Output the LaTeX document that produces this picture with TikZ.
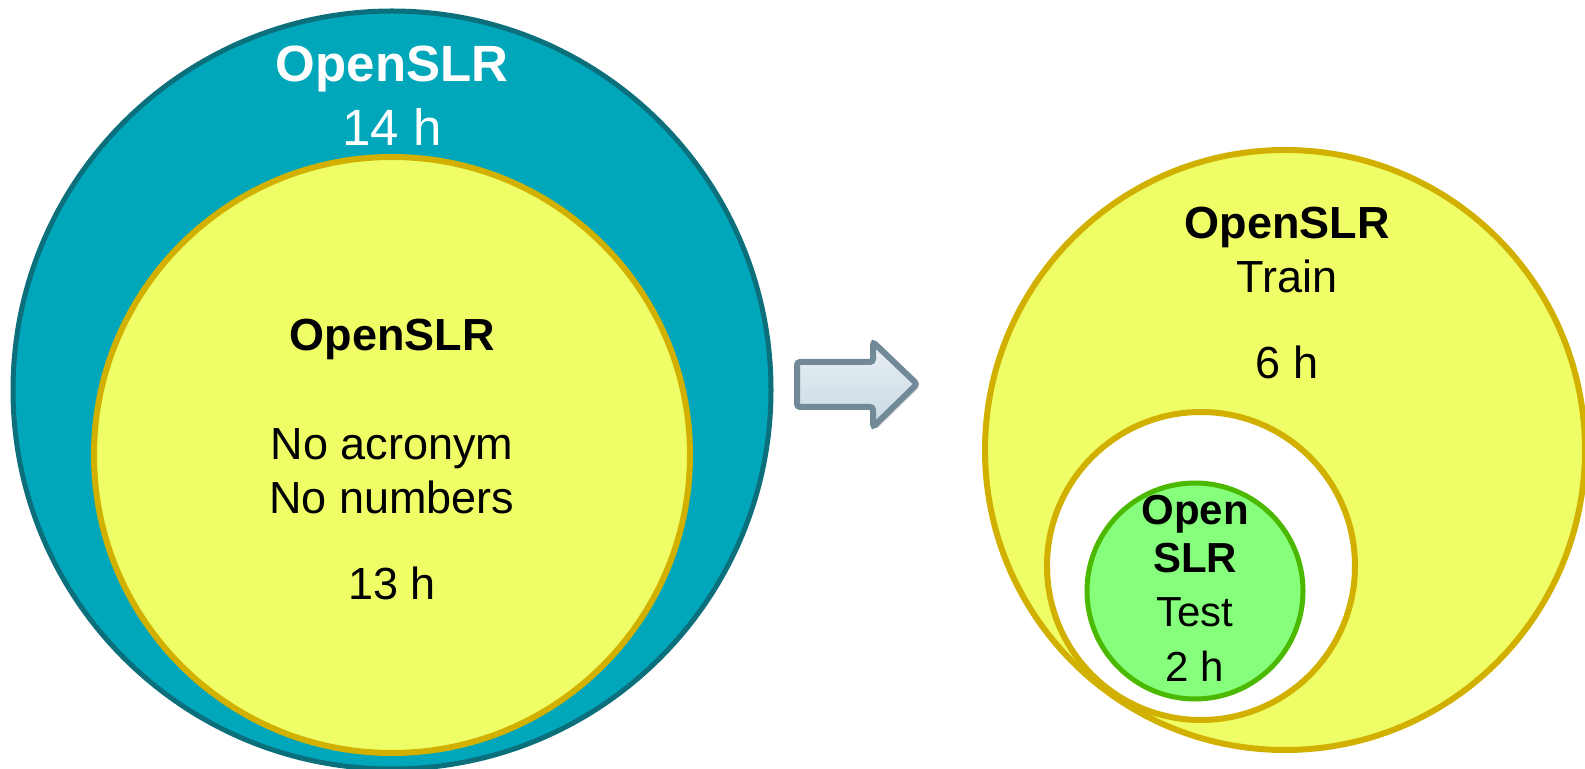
\documentclass[tikz,border=0pt]{standalone}
\usepackage{fontspec}
\setmainfont{Liberation Sans}
\usepackage{tikz}
\usetikzlibrary{positioning, calc, shadows}

\definecolor{tealfill}{HTML}{00A7BB}
\definecolor{tealline}{HTML}{0B6F7C}
\definecolor{yelfill}{HTML}{EFFE66}
\definecolor{goldline}{HTML}{D2B000}
\definecolor{greenfill}{HTML}{85FF7C}
\definecolor{greenline}{HTML}{4AB900}
\definecolor{arrline}{HTML}{728A98}
\definecolor{arrtop}{HTML}{E8EFF4}
\definecolor{arrbot}{HTML}{C9D9E3}

\newcommand{\bigtxt}{\fontsize{25.5}{30}\selectfont}
\newcommand{\midtxt}{\fontsize{22.5}{27}\selectfont}
\newcommand{\smalltxt}{\fontsize{21}{25}\selectfont}

\begin{document}
\begin{tikzpicture}[x=0.5pt, y=-0.5pt, every node/.style={inner sep=0pt},
	ring/.style={circle, draw, line width=3pt},
	lbl/.style={anchor=base, align=center}]
	\useasboundingbox (0,0) rectangle (1585,769);

	% left: whole corpus
	\node[ring, fill=tealfill, draw=tealline, line width=2.5pt, minimum size=379pt] (all) at (392,390) {};
	\node[ring, fill=yelfill, draw=goldline, minimum size=298pt] (clean) at (392,455) {};

	\node[lbl, text=white] (allname) at (392,82)  {\bigtxt\bfseries OpenSLR};
	\node[lbl, text=white] (allhrs)  at (392,146) {\bigtxt 14 h};

	\node[lbl] (cleanname) at (392,351) {\midtxt\bfseries OpenSLR};
	\node[lbl] (rule1)     at (392,460) {\midtxt No acronym};
	\node[lbl] (rule2)     at (392,514) {\midtxt No numbers};
	\node[lbl] (cleanhrs)  at (392,600) {\midtxt 13 h};

	% arrow between the two sets
	\draw[line width=3pt, draw=arrline, top color=arrtop, bottom color=arrbot, rounded corners=1.5pt,
		drop shadow={opacity=0.25, shadow xshift=1.5pt, shadow yshift=-1.5pt}]
		(797,362) -- (873,362) -- (873,342) -- (917,384) -- (873,427) -- (873,407) -- (797,407) -- cycle;

	% right: train / test split
	\node[ring, fill=yelfill, draw=goldline, minimum size=300pt] (train) at (1285,450) {};
	\node[ring, fill=white, draw=goldline, minimum size=154pt] (hole) at (1201,566) {};
	\node[ring, fill=greenfill, draw=greenline, line width=2.5pt, minimum size=108pt] (test) at (1195,591) {};

	\node[lbl] (trainname) at (1287,239) {\midtxt\bfseries OpenSLR};
	\node[lbl] (trainword) at (1287,293) {\midtxt Train};
	\node[lbl] (trainhrs)  at (1287,379) {\midtxt 6 h};

	\node[lbl] (testname1) at (1195,525) {\smalltxt\bfseries Open};
	\node[lbl] (testname2) at (1195,573) {\smalltxt\bfseries SLR};
	\node[lbl] (testword)  at (1195,627) {\smalltxt Test};
	\node[lbl] (testhrs)   at (1195,682) {\smalltxt 2 h};
\end{tikzpicture}
\end{document}
